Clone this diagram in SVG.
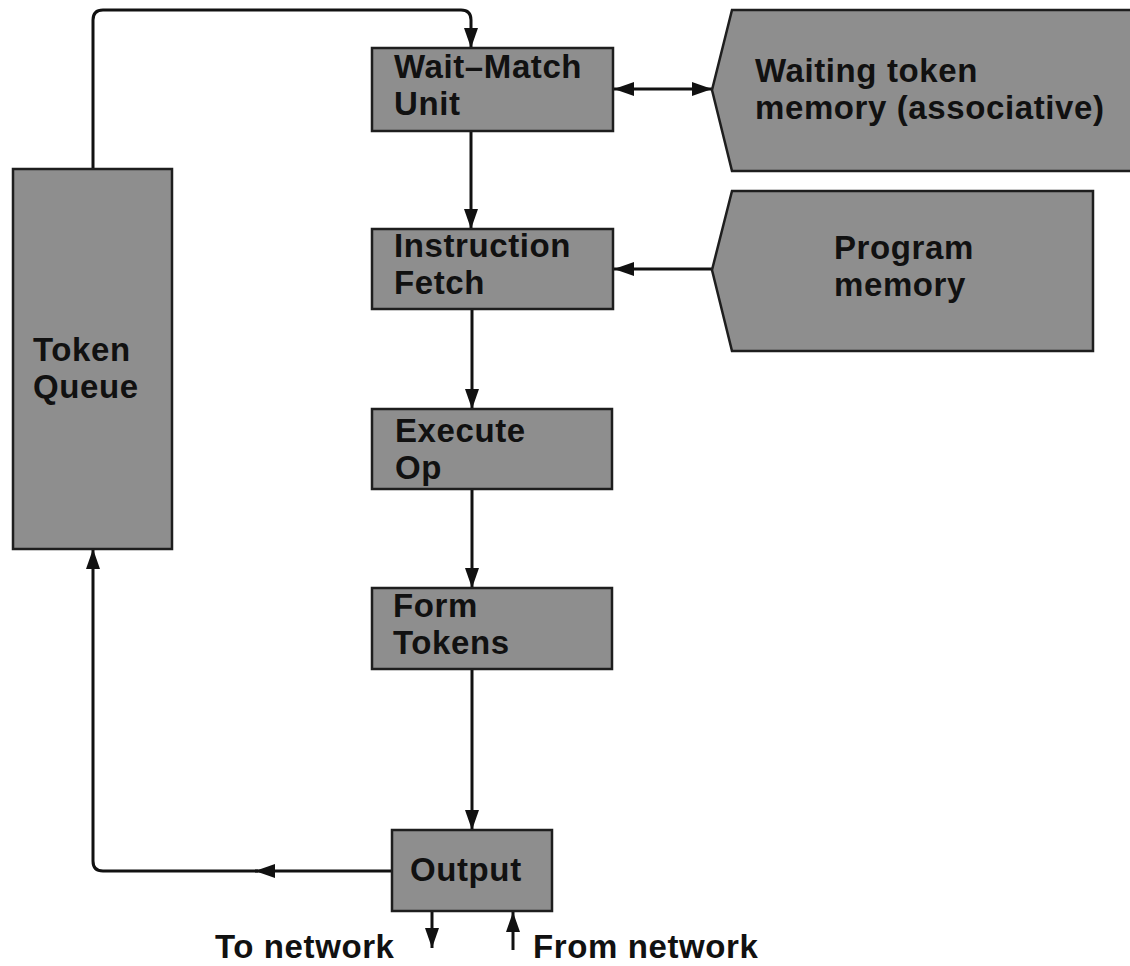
<svg xmlns="http://www.w3.org/2000/svg" width="1130" height="966" viewBox="0 0 1130 966">
<style>
.box{fill:#8e8e8e;stroke:#1e1e1e;stroke-width:2.5}
.t{font-family:"Liberation Sans",Arial,sans-serif;font-weight:bold;font-size:33px;letter-spacing:0.6px;fill:#111}
.c{fill:none;stroke:#111;stroke-width:3}
</style>
<defs>
<marker id="ah" markerUnits="userSpaceOnUse" markerWidth="20" markerHeight="14" refX="20" refY="7" orient="auto-start-reverse">
<path d="M0,0 L20,7 L0,14 Z" fill="#111"/>
</marker>
</defs>
<rect width="1130" height="966" fill="#fff"/>
<g id="connectors">
<path class="c" d="M93,169 V20 Q93,10 103,10 H461 Q471,10 471,20 V48" marker-end="url(#ah)"/>
<path class="c" d="M471,131 V229" marker-end="url(#ah)"/>
<path class="c" d="M472,309 V409" marker-end="url(#ah)"/>
<path class="c" d="M472,489 V588" marker-end="url(#ah)"/>
<path class="c" d="M472,669 V830" marker-end="url(#ah)"/>
<path class="c" d="M614,89 H712" marker-start="url(#ah)" marker-end="url(#ah)"/>
<path class="c" d="M712,269 H614" marker-end="url(#ah)"/>
<path class="c" d="M392,871 H255" marker-end="url(#ah)"/>
<path class="c" d="M258,871 H103 Q93,871 93,861 V549" marker-end="url(#ah)"/>
<path class="c" d="M432,911 V948" marker-end="url(#ah)"/>
<path class="c" d="M513,950 V912" marker-end="url(#ah)"/>
</g>
<g id="token-queue">
<rect class="box" x="13" y="169" width="159" height="380"/>
<text class="t" x="33" y="360.5">Token<tspan x="33" dy="37">Queue</tspan></text>
</g>
<g id="wait-match">
<rect class="box" x="372" y="48" width="241" height="83"/>
<text class="t" x="394" y="78">Wait–Match<tspan x="394" dy="37">Unit</tspan></text>
</g>
<g id="waiting-token-memory">
<polygon class="box" points="732,10 1140,10 1140,171 732,171 712,90"/>
<text class="t" x="755" y="81.5">Waiting token<tspan x="755" dy="37">memory (associative)</tspan></text>
</g>
<g id="instruction-fetch">
<rect class="box" x="372" y="229" width="241" height="80"/>
<text class="t" x="394" y="256.5">Instruction<tspan x="394" dy="37">Fetch</tspan></text>
</g>
<g id="program-memory">
<polygon class="box" points="732,191 1093,191 1093,351 732,351 712,270"/>
<text class="t" x="834" y="258.5">Program<tspan x="834" dy="37">memory</tspan></text>
</g>
<g id="execute-op">
<rect class="box" x="372" y="409" width="240" height="80"/>
<text class="t" x="395" y="441.5">Execute<tspan x="395" dy="37">Op</tspan></text>
</g>
<g id="form-tokens">
<rect class="box" x="372" y="588" width="240" height="81"/>
<text class="t" x="393" y="617">Form<tspan x="393" dy="37">Tokens</tspan></text>
</g>
<g id="output">
<rect class="box" x="392" y="830" width="160" height="81"/>
<text class="t" x="410" y="881">Output</text>
</g>
<g id="labels">
<text class="t" x="215" y="958">To network</text>
<text class="t" x="533" y="958">From network</text>
</g>
</svg>
